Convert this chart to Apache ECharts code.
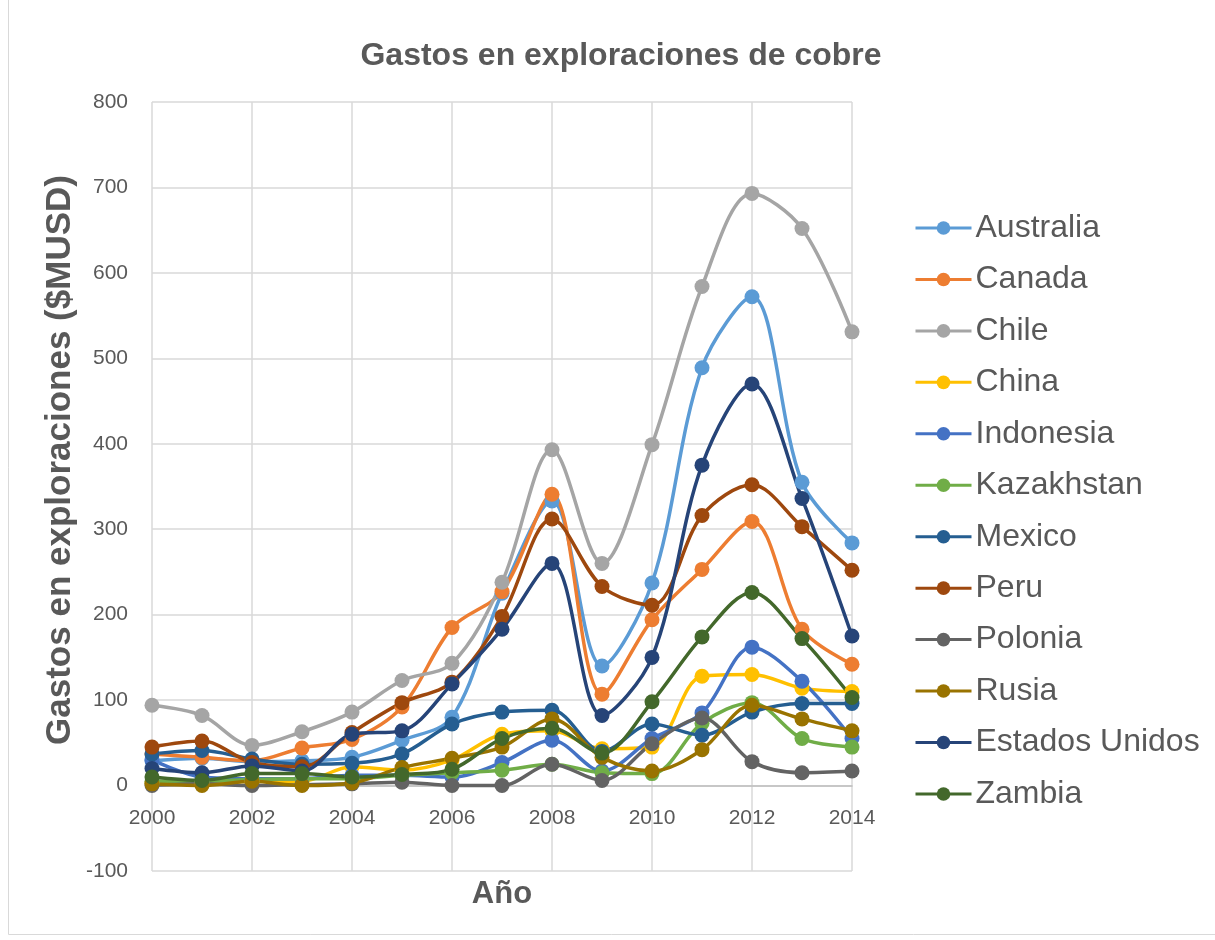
<!DOCTYPE html>
<html>
<head>
<meta charset="utf-8">
<script src="https://cdn.jsdelivr.net/npm/echarts@6/dist/echarts.min.js"></script>
<style>
  html, body { margin: 0; padding: 0; background: #fff; }
  #chart { width: 1215px; height: 940px; }
</style>
</head>
<body>
<div id="chart"></div>
<script>
// Copper exploration spending by country, millions of USD
const years = [2000, 2001, 2002, 2003, 2004, 2005, 2006, 2007, 2008, 2009, 2010, 2011, 2012, 2013, 2014];

const australia     = [29, 32, 28, 29, 33, 53, 80, 225, 333, 140, 237, 489, 572, 355, 284];
const canada        = [37, 33, 29, 44, 54, 92, 185, 227, 341, 107, 194, 253, 309, 183, 142];
const chile         = [94, 82, 47, 63, 86, 123, 143, 238, 393, 260, 399, 584, 693, 652, 531];
const china         = [3, 2, 5, 5, 22, 18, 30, 60, 64, 43, 45, 128, 130, 114, 110];
const indonesia     = [30, 10, 8, 8, 12, 12, 10, 27, 53, 17, 55, 85, 162, 122, 55];
const kazakhstan    = [5, 5, 7, 8, 8, 12, 15, 18, 25, 15, 14, 73, 97, 55, 45];
const mexico        = [37, 41, 31, 25, 26, 37, 72, 86, 88, 40, 72, 59, 86, 96, 96];
const peru          = [45, 52, 27, 22, 62, 97, 121, 198, 312, 233, 211, 316, 352, 303, 252];
const polonia       = [0, 2, 0, 1, 2, 4, 0, 0, 25, 6, 49, 79, 28, 15, 17];
const rusia         = [2, 0, 5, 0, 3, 21, 32, 45, 78, 33, 17, 42, 94, 78, 64];
const estadosUnidos = [20, 15, 23, 17, 60, 64, 119, 183, 260, 82, 150, 375, 470, 336, 175];
const zambia        = [10, 6, 14, 14, 10, 13, 19, 55, 67, 38, 98, 174, 226, 172, 103];

const seriesList = [
  ['Australia', australia, '#5B9BD5'],
  ['Canada', canada, '#ED7D31'],
  ['Chile', chile, '#A5A5A5'],
  ['China', china, '#FFC000'],
  ['Indonesia', indonesia, '#4472C4'],
  ['Kazakhstan', kazakhstan, '#70AD47'],
  ['Mexico', mexico, '#255E91'],
  ['Peru', peru, '#9E480E'],
  ['Polonia', polonia, '#636363'],
  ['Rusia', rusia, '#997300'],
  ['Estados Unidos', estadosUnidos, '#264478'],
  ['Zambia', zambia, '#43682B']
];

const yMin = -100, yMax = 800;
const textColor = '#595959';
const font = '"Liberation Sans", Arial, sans-serif';

// plot box in pixels
const plotTop = 102, plotBottom = 871, plotLeft = 152, plotRight = 852;
// the year axis sits on the zero line, not at the bottom of the plot
const zeroOffset = -(plotBottom - plotTop) * (0 - yMin) / (yMax - yMin);

const chart = echarts.init(document.getElementById('chart'));
chart.setOption({
  animation: false,
  backgroundColor: '#fff',
  color: seriesList.map(s => s[2]),
  title: {
    text: 'Gastos en exploraciones de cobre',
    left: 616,
    top: 35,
    textAlign: 'center',
    textStyle: { fontFamily: font, fontSize: 32, fontWeight: 'bold', color: textColor }
  },
  graphic: [
    {
      type: 'polyline',
      shape: { points: [[8.5, 0], [8.5, 934.5], [1215, 934.5]] },
      style: { fill: 'none', stroke: '#D9D9D9', lineWidth: 1 },
      silent: true
    },
    {
      type: 'text',
      x: 60, y: 460,
      rotation: Math.PI / 2,
      style: {
        text: 'Gastos en exploraciones ($MUSD)',
        fontFamily: font, fontSize: 35, fontWeight: 'bold', fill: textColor,
        textAlign: 'center', textVerticalAlign: 'middle'
      },
      silent: true
    },
    {
      type: 'text',
      x: 502, y: 894,
      style: {
        text: 'Año',
        fontFamily: font, fontSize: 31, fontWeight: 'bold', fill: textColor,
        textAlign: 'center', textVerticalAlign: 'middle'
      },
      silent: true
    }
  ],
  legend: {
    orient: 'vertical',
    left: 909,
    top: 206,
    itemGap: 17.45,
    itemWidth: 56,
    itemHeight: 17,
    lineStyle: { width: 3 },
    textStyle: { fontFamily: font, fontSize: 32, lineHeight: 34, color: textColor, padding: [0, 0, 0, -1] },
    data: seriesList.map(s => s[0])
  },
  grid: {
    left: plotLeft, right: 1215 - plotRight, top: plotTop, bottom: 940 - plotBottom,
    containLabel: false, outerBoundsMode: 'none'
  },
  xAxis: {
    type: 'value',
    min: 2000,
    max: 2014,
    interval: 2,
    offset: zeroOffset,
    axisLine: { onZero: false, lineStyle: { color: '#BFBFBF', width: 1.5 } },
    axisTick: { show: false },
    axisLabel: { fontFamily: font, fontSize: 21, color: textColor, margin: 22, formatter: v => String(v) },
    splitLine: { show: true, lineStyle: { color: '#D9D9D9', width: 1.5 } }
  },
  yAxis: {
    type: 'value',
    min: yMin,
    max: yMax,
    interval: 100,
    axisLine: { show: false },
    axisTick: { show: false },
    axisLabel: { fontFamily: font, fontSize: 21, color: textColor, margin: 24 },
    splitLine: { show: true, lineStyle: { color: '#D9D9D9', width: 1.5 } }
  },
  series: seriesList.map(([name, values, color]) => ({
    name: name,
    type: 'line',
    smooth: 0.33,
    symbol: 'circle',
    symbolSize: 15,
    lineStyle: { width: 3.5, color: color },
    itemStyle: { color: color },
    data: years.map((y, i) => [y, values[i]])
  }))
});
</script>
</body>
</html>
